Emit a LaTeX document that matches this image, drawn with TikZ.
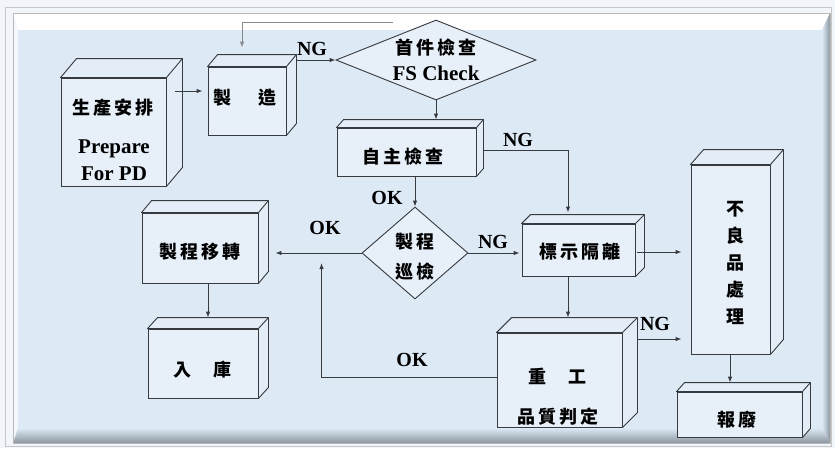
\documentclass[tikz,border=0pt]{standalone}
\usepackage{fontspec}
\setmainfont{Liberation Serif}
\newfontfamily\cjk{Noto Sans CJK TC}
\usetikzlibrary{shapes.geometric,arrows.meta,calc}
\definecolor{bg}{RGB}{221,234,246}
\definecolor{ln}{RGB}{55,58,62}
\definecolor{frame}{RGB}{242,245,249}
\definecolor{shade}{RGB}{140,150,160}
\newcommand\gp{\hspace{3pt}}
\newcommand\depthfaces[3]{%
  \draw[face] (#1.north west) -- ++(#2,#3) -- ($(#1.north east)+(#2,#3)$) -- ($(#1.south east)+(#2,#3)$) -- (#1.south east) -- (#1.north east) -- cycle;
  \draw[face] (#1.north east) -- ++(#2,#3);
}
\begin{document}
\begin{tikzpicture}[x=1pt,y=-1pt,
  box/.style={draw=ln,line width=0.9pt,fill=bg!70!white,inner sep=0pt,rectangle},
  face/.style={draw=ln,line width=0.9pt,fill=bg!85!white,line join=round},
  dia/.style={draw=ln,line width=0.9pt,fill=bg!70!white,diamond,inner sep=0pt},
  arr/.style={draw=ln,line width=0.9pt,-{Latex[length=6pt,width=4.5pt]}},
  lat/.style={font=\bfseries\fontsize{20}{22}\selectfont,inner sep=0pt},
  latbig/.style={font=\bfseries\fontsize{21}{23}\selectfont,inner sep=0pt},
  zh/.style={font=\cjk\bfseries\fontsize{18}{20}\selectfont,inner sep=0pt}
]
\useasboundingbox (0,0) rectangle (835,448);
% frame
\fill[frame] (0,0) rectangle (835,448);
\draw[gray!45,line width=0.8pt] (5,7) rectangle (831,446);
\fill[white] (13,13) -- (830,13) -- (822,30) -- (18,30) -- cycle;
\fill[bg!40!white] (13,13) -- (18,30) -- (18,428) -- (13,443) -- cycle;
\shade[top color=bg, bottom color=shade] (13,443) -- (18,428) -- (822,428) -- (830,443) -- cycle;
\shade[left color=bg, right color=shade] (830,13) -- (822,30) -- (822,428) -- (830,443) -- cycle;
\fill[bg] (18,30) rectangle (822,428);
\draw[gray!55,line width=0.6pt] (13,13) rectangle (830,443);

% boxes
\node[box,minimum width=105pt,minimum height=108pt] (plan) at (113.5,132) {};
\depthfaces{plan}{16}{-19}
\node[box,minimum width=78pt,minimum height=68pt] (mfg) at (247,101) {};
\depthfaces{mfg}{10}{-12}
\node[box,minimum width=139pt,minimum height=48pt] (self) at (406.5,152) {};
\depthfaces{self}{7}{-8}
\node[box,minimum width=113pt,minimum height=52pt] (mark) at (578.5,250) {};
\depthfaces{mark}{9}{-9}
\node[box,minimum width=79pt,minimum height=189pt] (bad) at (730.5,259.5) {};
\depthfaces{bad}{13}{-15}
\node[box,minimum width=125pt,minimum height=45pt] (scrap) at (739.5,414.5) {};
\depthfaces{scrap}{8}{-9}
\node[box,minimum width=125pt,minimum height=94pt] (rework) at (559.5,380) {};
\depthfaces{rework}{15}{-15}
\node[box,minimum width=116pt,minimum height=70pt] (proc) at (200,248) {};
\depthfaces{proc}{10}{-12}
\node[box,minimum width=110pt,minimum height=69pt] (store) at (203,363.5) {};
\depthfaces{store}{10}{-11}

% diamonds
\node[dia,minimum width=200pt,minimum height=80pt] (fs) at (436,60) {};
\node[dia,minimum width=106pt,minimum height=92pt] (insp) at (415,253) {};

% texts
\node[zh] (planzh) at (113,108) {生\gp 產\gp 安\gp 排};
\node[latbig,anchor=base] (planen1) at (114,153) {Prepare};
\node[latbig,anchor=base] (planen2) at (114,180) {For PD};
\node[zh] (mfgt) at (244.5,98) {製\hspace{27pt}造};
\node[zh] (fszh) at (436,48) {首\gp 件\gp 檢\gp 查};
\node[latbig,anchor=base] (fsen) at (436,80) {FS Check};
\node[zh] (selft) at (403,157) {自\gp 主\gp 檢\gp 查};
\node[zh] (insp1) at (415,242) {製\gp 程};
\node[zh] (insp2) at (415,272) {巡\gp 檢};
\node[zh] (markt) at (580,252) {標\gp 示\gp 隔\gp 離};
\node[zh,align=center,font=\cjk\bfseries\fontsize{18}{27}\selectfont] (badt) at (735,262.5) {不\\良\\品\\處\\理};
\node[zh] (scrapt) at (737,420) {報\gp 廢};
\node[zh] (rework1) at (557.5,376) {重\hspace{23pt}工};
\node[zh] (rework2) at (558,417) {品\gp 質\gp 判\gp 定};
\node[zh] (proct) at (200,252) {製\gp 程\gp 移\gp 轉};
\node[zh] (storet) at (202.5,370) {入\hspace{23pt}庫};

% connectors
\coordinate (loopR) at (393,22);
\draw[arr] ($(mfg.west -| plan.east)+(9,-10)$) -- ($(mfg.west)+(-5,-10)$);
\draw[arr] ($(fs.west -| mfg.east)+(10,0)$) -- (fs.west);
\draw[arr,draw=ln!60] (loopR) -- ($(loopR -| mfg.north)+(-5,0)$) -- ($(mfg.north)+(-5,-19)$);
\draw[arr] (fs.south) -- ($(fs.south |- self.north)+(0,-8)$);
\draw[arr] ($(self.east)+(7,-2)$) -| ($(mark.north)+(-10.5,-11)$);
\draw[arr] (insp.north |- self.south) -- (insp.north);
\draw[arr] (insp.west) -- ($(insp.west -| proc.east)+(17,0)$);
\draw[arr] (insp.east) -- ($(insp.east -| mark.west)+(-2,0)$);
\draw[arr] ($(mark.east)+(2,2)$) -- ($(mark.east -| bad.west)+(-9,2)$);
\draw[arr] ($(mark.south)+(-10.5,0)$) -- ($(rework.north)+(8.5,-15)$);
\draw[arr] ($(rework.east)+(15,-41)$) -- ($(rework.east -| bad.west)+(-9,-41)$);
\draw[arr] ($(rework.west)+(0,-3)$) -| ($(insp.west)+(-40,10)$);
\draw[arr] ($(proc.south)+(8,0)$) -- ($(store.north)+(5,-11)$);
\draw[arr] ($(bad.south)+(-0.5,0)$) -- ($(bad.south |- scrap.north)+(-0.5,-9)$);

% labels
\node[lat] (ng1) at (312,49) {NG};
\node[lat] (ng2) at (518,140) {NG};
\node[lat] (ok1) at (387,198) {OK};
\node[lat] (ok2) at (325,228) {OK};
\node[lat] (ng3) at (493,242) {NG};
\node[lat] (ng4) at (655,324) {NG};
\node[lat] (ok3) at (412,360) {OK};
\end{tikzpicture}
\end{document}
